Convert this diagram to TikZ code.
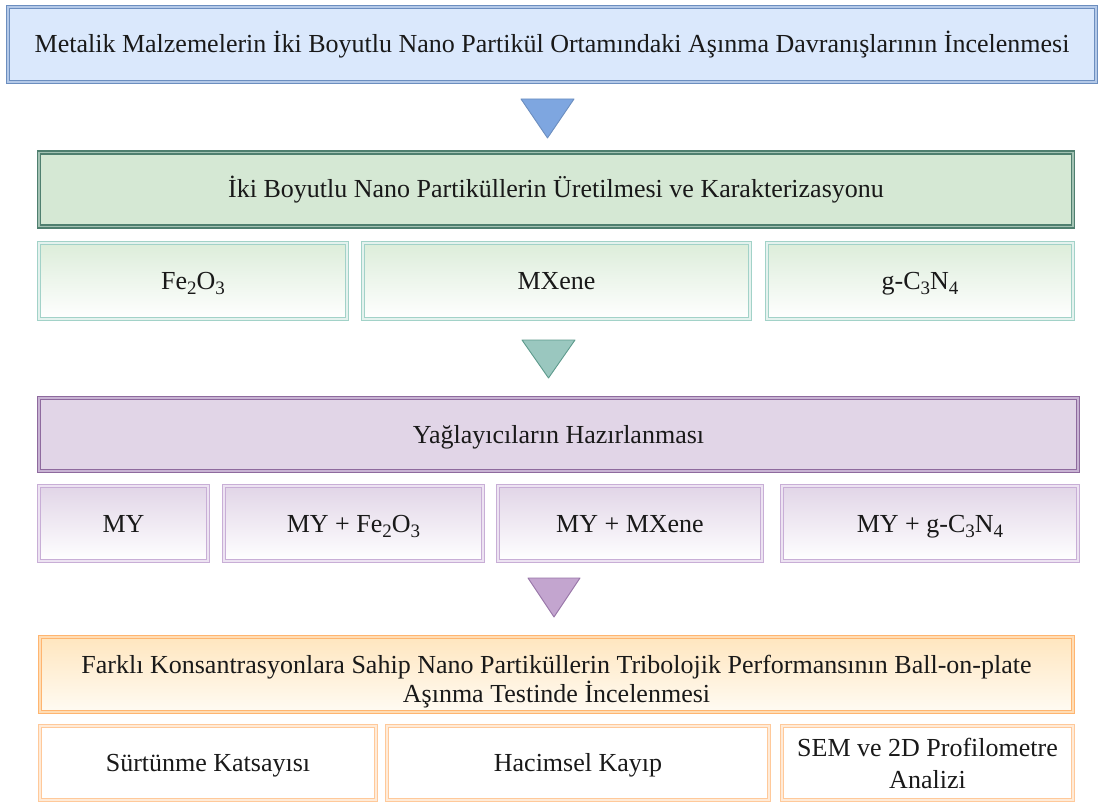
\documentclass[tikz,border=0pt]{standalone}
\usepackage{fontspec}
\setmainfont{Liberation Serif}
\newcommand\chemsub[1]{\smash{\raisebox{-0.45ex}{\fontsize{19}{19}\selectfont #1}}}
\definecolor{bluefill}{HTML}{DAE8FC}
\definecolor{blueline}{HTML}{6C8EBF}
\definecolor{bluegap}{HTML}{B4C9E8}
\definecolor{bluetri}{HTML}{7EA6E0}
\definecolor{greenfill}{HTML}{D5E8D4}
\definecolor{greenline}{HTML}{4F7F6F}
\definecolor{greengap}{HTML}{A3C2B3}
\definecolor{tealline}{HTML}{A2D2C8}
\definecolor{tealgap}{HTML}{E4F2EE}
\definecolor{tealtop}{HTML}{DCEDDA}
\definecolor{tealtri}{HTML}{9AC7BF}
\definecolor{tealtriline}{HTML}{5D9A8C}
\definecolor{purplefill}{HTML}{E1D5E7}
\definecolor{purpleline}{HTML}{8E6A9E}
\definecolor{purplegap}{HTML}{C8B3D3}
\definecolor{lilacline}{HTML}{C8AED6}
\definecolor{lilacgap}{HTML}{EDE3F2}
\definecolor{purpletri}{HTML}{C3A5CF}
\definecolor{purpletriline}{HTML}{9673A6}
\definecolor{orangeline}{HTML}{FFB570}
\definecolor{orangegap}{HTML}{FFDDB5}
\definecolor{orangetop}{HTML}{FFE6BF}
\definecolor{orangebot}{HTML}{FFFBF3}
\definecolor{peachline}{HTML}{FFC99A}
\definecolor{peachgap}{HTML}{FFEBD8}
\begin{document}
\begin{tikzpicture}[x=1pt,y=-1pt,
  box/.style={rectangle, inner sep=0pt, align=center, font=\fontsize{26}{29}\selectfont, text=black!90},
  oneline/.style={text height=19pt, text depth=2pt},
  mainblue/.style={box, draw=blueline, line width=1.3pt, double=bluegap, double distance=1.8pt, fill=bluefill},
  maingreen/.style={box, draw=greenline, line width=1.3pt, double=greengap, double distance=1.8pt, fill=greenfill},
  subgreen/.style={box, draw=tealline, line width=1.1pt, double=tealgap, double distance=1.8pt, top color=tealtop, bottom color=white},
  mainpurple/.style={box, draw=purpleline, line width=1.3pt, double=purplegap, double distance=1.8pt, fill=purplefill},
  subpurple/.style={box, draw=lilacline, line width=1.1pt, double=lilacgap, double distance=1.8pt, top color=purplefill, bottom color=white},
  mainorange/.style={box, draw=orangeline, line width=1.3pt, double=orangegap, double distance=1.8pt, top color=orangetop, bottom color=orangebot},
  suborange/.style={box, draw=peachline, line width=1.1pt, double=peachgap, double distance=1.8pt, fill=white},
  tri/.style={line width=0.9pt, line join=round}
]
\useasboundingbox (0,0) rectangle (1103,802);

\node[mainblue, oneline, minimum width=1088, minimum height=75] (top) at (552,44.5)
  {Metalik Malzemelerin İki Boyutlu Nano Partikül Ortamındaki Aşınma Davranışlarının İncelenmesi};

\path[tri, draw=blueline, fill=bluetri] (521,99) -- (574,99) -- (547.5,138) -- cycle;

\node[maingreen, oneline, minimum width=1034, minimum height=74] (prod) at (556,189.5)
  {İki Boyutlu Nano Partiküllerin Üretilmesi ve Karakterizasyonu};
\node[subgreen, oneline, minimum width=308, minimum height=76] (fe) at (193,281) {Fe\chemsub{2}O\chemsub{3}};
\node[subgreen, oneline, minimum width=387, minimum height=76] (mx) at (556.5,281) {MXene};
\node[subgreen, oneline, minimum width=306, minimum height=76] (gc) at (920,281) {g-C\chemsub{3}N\chemsub{4}};

\path[tri, draw=tealtriline, fill=tealtri] (522,340) -- (575,340) -- (548.5,378) -- cycle;

\node[mainpurple, oneline, minimum width=1039, minimum height=73] (lub) at (558.5,434.5)
  {Yağlayıcıların Hazırlanması};
\node[subpurple, oneline, minimum width=169, minimum height=75] (my) at (123.5,523.5) {MY};
\node[subpurple, oneline, minimum width=259, minimum height=75] (myfe) at (353.5,523.5) {MY + Fe\chemsub{2}O\chemsub{3}};
\node[subpurple, oneline, minimum width=264, minimum height=75] (mymx) at (630,523.5) {MY + MXene};
\node[subpurple, oneline, minimum width=296, minimum height=75] (mygc) at (930,523.5) {MY + g-C\chemsub{3}N\chemsub{4}};

\path[tri, draw=purpletriline, fill=purpletri] (528,578) -- (580,578) -- (554,617) -- cycle;

\node[mainorange, minimum width=1033, minimum height=75] (test) at (556.5,674.5)
  {\rule{0pt}{33pt}Farklı Konsantrasyonlara Sahip Nano Partiküllerin Tribolojik Performansının Ball-on-plate\\Aşınma Testinde İncelenmesi};
\node[suborange, oneline, minimum width=336, minimum height=74] (fric) at (208,763) {Sürtünme Katsayısı};
\node[suborange, oneline, minimum width=382, minimum height=74] (vol) at (578,763) {Hacimsel Kayıp};
\node[suborange, minimum width=291, minimum height=74, font=\fontsize{26}{32}\selectfont] (sem) at (927.5,763) {SEM ve 2D Profilometre\\Analizi};
\end{tikzpicture}
\end{document}
